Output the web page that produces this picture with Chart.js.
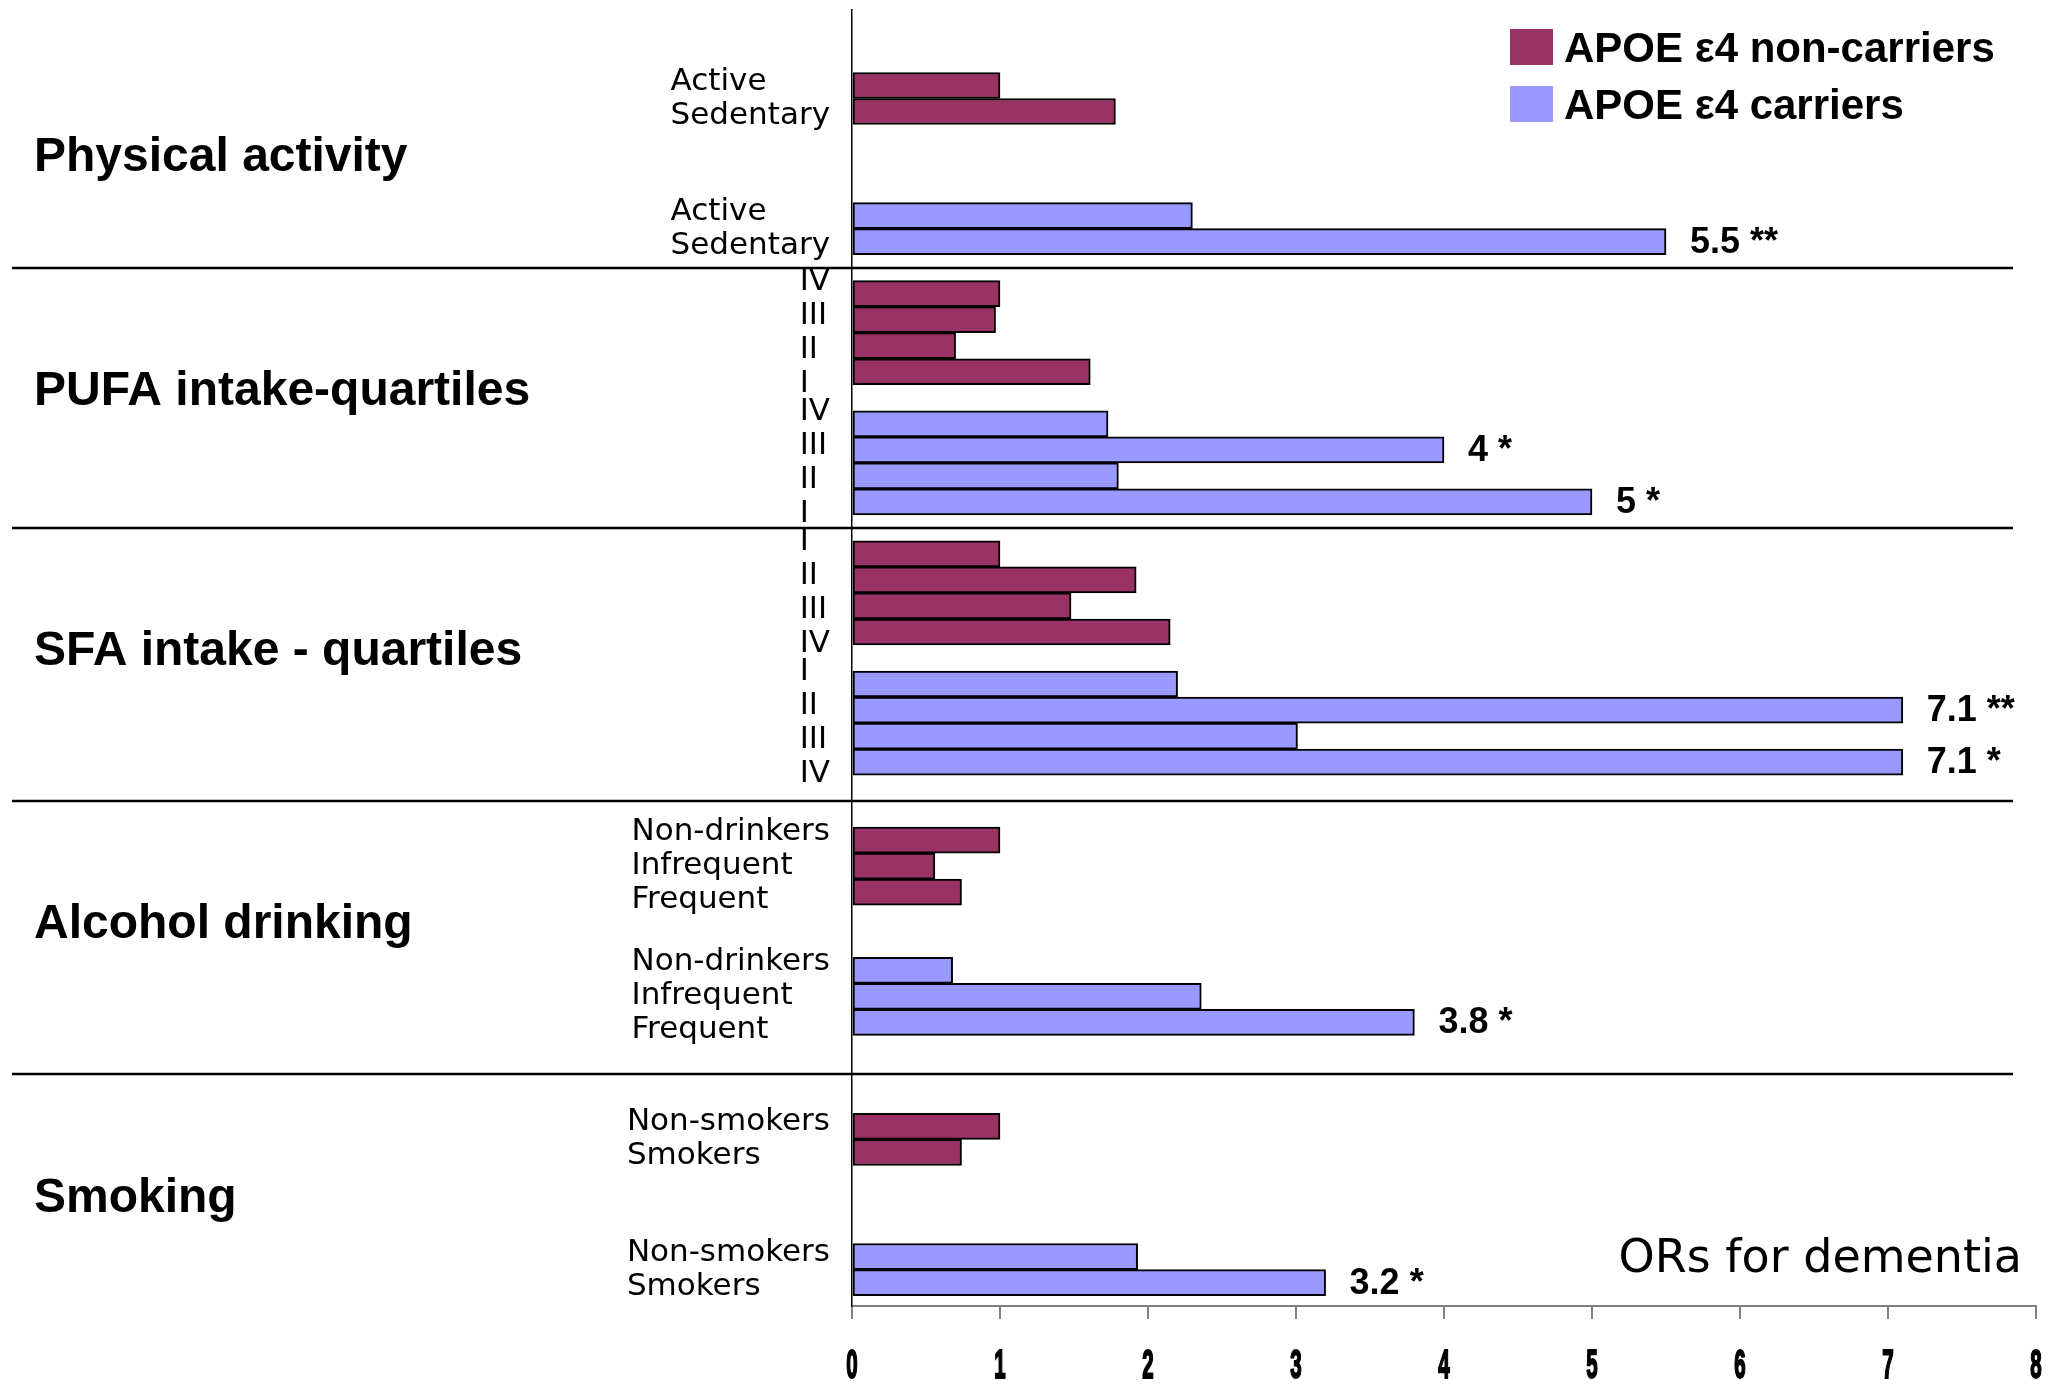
<!DOCTYPE html>
<html>
<head>
<meta charset="utf-8">
<script src="https://cdn.jsdelivr.net/npm/chart.js@4.4.1/dist/chart.umd.min.js"></script>
<style>
  html, body { margin: 0; padding: 0; background: #fff; }
  #wrap { width: 2048px; height: 1384px; }
</style>
</head>
<body>
<div id="wrap"><canvas id="orChart" width="2048" height="1384"></canvas></div>
<script>
// Risk factors, top to bottom
const groupNames = ['Physical activity', 'PUFA intake-quartiles', 'SFA intake - quartiles', 'Alcohol drinking', 'Smoking'];
const groupLevels = [
    ['Active', 'Sedentary'],
    ['IV', 'III', 'II', 'I'],
    ['I', 'II', 'III', 'IV'],
    ['Non-drinkers', 'Infrequent', 'Frequent'],
    ['Non-smokers', 'Smokers']
];

// Odds ratios per level
const nonCarrierOR = [
    [1.0, 1.78],
    [1.0, 0.97, 0.70, 1.61],
    [1.0, 1.92, 1.48, 2.15],
    [1.0, 0.56, 0.74],
    [1.0, 0.74]
];
const carrierOR = [
    [2.30, 5.5],
    [1.73, 4, 1.80, 5],
    [2.20, 7.1, 3.01, 7.1],
    [0.68, 2.36, 3.8],
    [1.93, 3.2]
];
// Significance marks shown next to carrier bars
const carrierStars = [
    ['', '**'],
    ['', '*', '', '*'],
    ['', '**', '', '*'],
    ['', '', '*'],
    ['', '*']
];

const seriesNames = ['APOE ε4 non-carriers', 'APOE ε4 carriers'];
const seriesColors = ['#993366', '#9999FF'];
const axisMin = 0;
const axisMax = 8;
const axisNote = 'ORs for dementia';

// Empty rows between the bar blocks
const topGap = 2;
const gapInside = [3, 1, 1, 2, 3];
const gapBetween = [1, 1, 2, 3];

// Build the row list for the category axis
let labels = [];
let ncData = [];
let cData = [];
let blocks = [];    // consecutive bars sharing one label column
let sections = [];  // first/last row of each risk factor
let notes = [];     // value labels on carrier bars

function addBlank(n) {
    for (let i = 0; i < n; i++) {
        labels.push('');
        ncData.push(null);
        cData.push(null);
    }
}

addBlank(topGap);
groupNames.forEach((name, g) => {
    const first = labels.length;
    let start = labels.length;
    groupLevels[g].forEach((lvl, i) => {
        labels.push(lvl);
        ncData.push(nonCarrierOR[g][i]);
        cData.push(null);
    });
    blocks.push({ start: start, end: labels.length - 1, names: groupLevels[g] });
    addBlank(gapInside[g]);
    start = labels.length;
    groupLevels[g].forEach((lvl, i) => {
        labels.push(lvl);
        ncData.push(null);
        cData.push(carrierOR[g][i]);
        if (carrierStars[g][i]) {
            notes.push({ row: labels.length - 1, value: carrierOR[g][i], text: carrierOR[g][i] + ' ' + carrierStars[g][i] });
        }
    });
    blocks.push({ start: start, end: labels.length - 1, names: groupLevels[g] });
    sections.push({ name: name, first: first, last: labels.length - 1 });
    if (g < gapBetween.length) addBlank(gapBetween[g]);
});

// Text, separators and legend drawn on top of the bars
const decorations = {
    id: 'decorations',
    afterDraw(chart) {
        const ctx = chart.ctx;
        const xs = chart.scales.x;
        const ys = chart.scales.y;
        ctx.save();
        ctx.fillStyle = '#000';

        // horizontal separators between risk factors
        ctx.strokeStyle = '#000';
        ctx.lineWidth = 2.5;
        for (let i = 0; i < sections.length - 1; i++) {
            const y = Math.round((ys.getPixelForValue(sections[i].last) + ys.getPixelForValue(sections[i + 1].first)) / 2);
            ctx.beginPath();
            ctx.moveTo(12, y);
            ctx.lineTo(2013, y);
            ctx.stroke();
        }

        // risk factor titles
        ctx.font = 'bold 48px "Liberation Sans", Arial, sans-serif';
        ctx.textAlign = 'left';
        ctx.textBaseline = 'middle';
        sections.forEach(s => {
            const y = (ys.getPixelForValue(s.first) + ys.getPixelForValue(s.last)) / 2 - 6;
            ctx.fillText(s.name, 34, y);
        });

        // level labels, left aligned within each block
        ctx.font = '31px "DejaVu Sans", Verdana, sans-serif';
        const labelRight = 830;
        const lineH = 34;
        blocks.forEach(b => {
            const maxW = Math.max(...b.names.map(t => ctx.measureText(t).width));
            const mid = (ys.getPixelForValue(b.start) + ys.getPixelForValue(b.end)) / 2;
            const n = b.names.length;
            b.names.forEach((t, i) => {
                ctx.fillText(t, labelRight - maxW, mid + (i - (n - 1) / 2) * lineH);
            });
        });

        // odds ratio values with significance marks
        ctx.font = 'bold 36px "Liberation Sans", Arial, sans-serif';
        notes.forEach(nt => {
            ctx.fillText(nt.text, xs.getPixelForValue(nt.value) + 24, ys.getPixelForValue(nt.row) + 1);
        });

        // narrow bold tick numbers under the x axis
        ctx.font = 'bold 41px "Liberation Sans", Arial, sans-serif';
        ctx.textAlign = 'center';
        ctx.lineWidth = 2;
        xs.ticks.forEach(t => {
            ctx.save();
            ctx.translate(xs.getPixelForValue(t.value), 1367);
            ctx.scale(0.5, 1);
            ctx.fillText(String(t.value), 0, 0);
            ctx.strokeText(String(t.value), 0, 0);
            ctx.restore();
        });

        // axis note
        ctx.font = '46px "DejaVu Sans", Verdana, sans-serif';
        ctx.textAlign = 'right';
        ctx.fillText(axisNote, 2022, 1260);

        // legend
        ctx.textAlign = 'left';
        ctx.font = 'bold 42px "Liberation Sans", Arial, sans-serif';
        chart.data.datasets.forEach((ds, i) => {
            const top = 29 + i * 57;
            ctx.fillStyle = ds.backgroundColor;
            ctx.fillRect(1510, top, 43, 36);
            ctx.fillStyle = '#000';
            ctx.fillText(ds.label, 1564, top + 21);
        });

        ctx.restore();
    }
};

// leave a little room above the first row and below the last one
function padCategoryRange(scale) {
    scale._startValue -= 0.4;
    scale._valueRange += 0.8;
}

const ctx = document.getElementById('orChart').getContext('2d');
new Chart(ctx, {
    type: 'bar',
    data: {
        labels: labels,
        datasets: [
            {
                label: seriesNames[0],
                data: ncData,
                backgroundColor: seriesColors[0],
                borderColor: '#000',
                borderWidth: 2,
                borderSkipped: false,
                grouped: false,
                barPercentage: 1,
                categoryPercentage: 1
            },
            {
                label: seriesNames[1],
                data: cData,
                backgroundColor: seriesColors[1],
                borderColor: '#000',
                borderWidth: 2,
                borderSkipped: false,
                grouped: false,
                barPercentage: 1,
                categoryPercentage: 1
            }
        ]
    },
    options: {
        indexAxis: 'y',
        responsive: false,
        animation: false,
        devicePixelRatio: 1,
        layout: { padding: { left: 852, right: 12, top: 10, bottom: 65 } },
        scales: {
            x: {
                type: 'linear',
                min: axisMin,
                max: axisMax,
                ticks: { stepSize: 1, display: false },
                grid: { display: true, drawOnChartArea: false, drawTicks: true, tickLength: 13, color: '#808080', lineWidth: 2 },
                border: { display: true, color: '#808080', width: 2 }
            },
            y: {
                type: 'category',
                afterBuildTicks: padCategoryRange,
                ticks: { display: false },
                grid: { display: false, drawTicks: false },
                border: { display: true, color: '#000', width: 1.5 }
            }
        },
        plugins: {
            legend: { display: false },
            tooltip: { enabled: false }
        }
    },
    plugins: [decorations]
});
</script>
</body>
</html>
